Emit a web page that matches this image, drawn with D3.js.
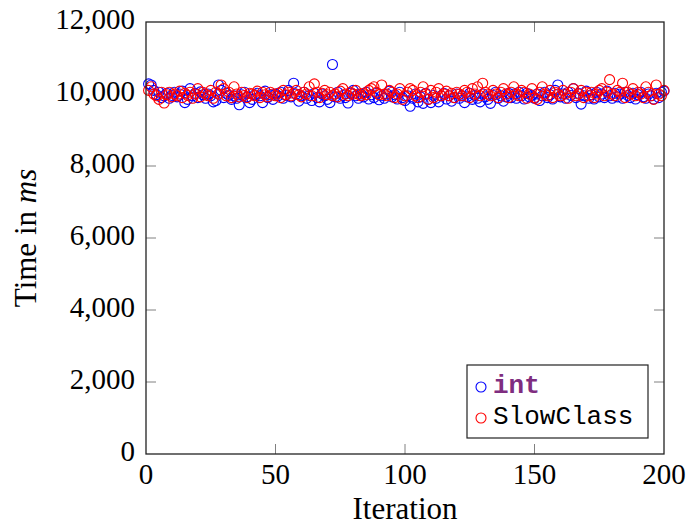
<!DOCTYPE html>
<meta charset="utf-8">
<style>
body { margin: 0; background: #fff; }
text { font-family: "Liberation Serif", "DejaVu Serif", serif; fill: #000; }
.tick-label { font-size: 29px; }
.axis-title { font-size: 31px; }
.legend-text { font-family: "Liberation Mono", monospace; font-size: 26px; }
</style>
<body>
<script src="https://d3js.org/d3.v7.min.js"></script>
<script>

// x ticks and y ticks
var xTicks = [0, 50, 100, 150, 200];
var yTicks = [0, 2000, 4000, 6000, 8000, 10000, 12000];

// run times for int, one per iteration
var intTimes = [
  10280, 10250, 10100, 9980, 10050, 9900, 9950, 10020, 9880, 9960, 10050, 9920, 10000, 10080, 9760, 9850, 10150, 9950, 10020, 9900,
  10060, 9980, 9880, 10000, 9950, 9780, 9820, 10250, 10100, 9900, 10020, 9960, 9850, 9950, 9880, 9700, 9980, 10050, 9920, 9760,
  9850, 9980, 10020, 9950, 9760, 10080, 9900, 9980, 9850, 10000, 9950, 10050, 9880, 9960, 10100, 9920, 10300, 10000, 9800, 9950,
  10050, 9880, 9960, 9820, 10020, 9900, 9780, 10000, 9950, 9850, 9760, 10820, 9920, 10050, 9880, 9960, 9900, 9750, 10020, 10100,
  9950, 9880, 10000, 9920, 10050, 9860, 9980, 9900, 10020, 9840, 9950, 9880, 10000, 10080, 9920, 9980, 9860, 10050, 9900, 9820,
  9950, 9660, 9880, 10000, 9780, 9920, 9740, 10020, 9850, 9760, 9960, 9880, 9780, 9950, 10020, 9860, 9950, 9800, 9900, 10000,
  9880, 9950, 9760, 9920, 10020, 9850, 9960, 9880, 9780, 10000, 9920, 9850, 9740, 9960, 10050, 9880, 9950, 9800, 9920, 10020,
  9900, 10000, 9880, 10050, 9950, 9860, 10020, 9920, 9960, 9880, 10000, 9820, 9950, 10050, 9900, 9980, 9860, 10100, 10250, 9920,
  10000, 9880, 10050, 9960, 10150, 9900, 10020, 9720, 9950, 10080, 9880, 9980, 9860, 10050, 9920, 10000, 9900, 10080, 9950, 9880,
  10020, 9920, 10000, 9880, 10050, 9960, 9900, 10020, 9860, 9980, 10050, 9920, 9880, 10000, 9950, 9860, 10020, 9900, 10050, 10080
];

// run times for SlowClass
var slowTimes = [
  10100, 10200, 10000, 9950, 9850, 10050, 9750, 9980, 10050, 9920, 10000, 9950, 10080, 9900, 10020, 9960, 10050, 9880, 10000, 10150,
  9920, 10050, 10000, 9950, 10100, 9880, 10050, 10000, 10250, 10150, 9950, 10050, 9900, 10200, 10000, 9920, 10050, 9960, 9900, 10020,
  10000, 9950, 10080, 9900, 10050, 9980, 9920, 10050, 10000, 9950, 10020, 9900, 10100, 9980, 10050, 9950, 10020, 10100, 9980, 9920,
  10050, 10000, 10200, 9950, 10280, 10050, 9900, 10020, 10100, 9980, 10050, 9950, 10000, 9920, 10080, 10150, 10000, 9950, 10050, 10000,
  10100, 10000, 9950, 10020, 9980, 10100, 10150, 10200, 10050, 9980, 10250, 10000, 9950, 10100, 10050, 9900, 10000, 10150, 9850, 9950,
  10050, 10150, 10100, 9950, 9900, 10050, 10200, 10000, 9850, 10100, 9900, 10050, 10150, 9950, 10000, 10080, 9950, 10020, 9900, 10050,
  10000, 9950, 10100, 10050, 9900, 10150, 10000, 10200, 9950, 10300, 10050, 10000, 9950, 10100, 10000, 9900, 10050, 10150, 10000, 9900,
  10050, 10200, 10000, 9950, 10100, 10050, 9880, 10000, 10150, 9900, 9850, 10050, 10200, 10000, 9950, 10100, 9900, 10050, 10000, 9950,
  10100, 10000, 9880, 10050, 10150, 9950, 10000, 10100, 9900, 10050, 9950, 10050, 9900, 10000, 10100, 10150, 9950, 10050, 10400, 10000,
  9950, 10100, 10050, 10300, 9900, 10050, 10000, 10150, 9950, 10050, 10000, 9900, 10200, 10050, 9950, 9850, 10250, 10000, 9950, 10100
];

var series = [
  {name: "int", values: intTimes, color: "#0000ff"},
  {name: "SlowClass", values: slowTimes, color: "#ff0000"}
];

// plot box in page pixels (don't call these top/left: window.top is taken)
var width = 688, height = 527;
var boxLeft = 146, boxRight = 664, boxTop = 22, boxBottom = 454;

var x = d3.scaleLinear().domain([0, 200]).range([boxLeft, boxRight]);
var y = d3.scaleLinear().domain([0, 12000]).range([boxBottom, boxTop]);

var svg = d3.select("body").append("svg")
    .attr("width", width)
    .attr("height", height);

// ticks inside the box, on all four sides
var tickLen = 10;
var tickColor = "#808080";

svg.append("g").selectAll("line")
    .data(xTicks.slice(1, -1))
  .enter().append("line")
    .attr("x1", d => x(d)).attr("x2", d => x(d))
    .attr("y1", boxBottom).attr("y2", boxBottom - tickLen)
    .attr("stroke", tickColor);
svg.append("g").selectAll("line")
    .data(xTicks.slice(1, -1))
  .enter().append("line")
    .attr("x1", d => x(d)).attr("x2", d => x(d))
    .attr("y1", boxTop).attr("y2", boxTop + tickLen)
    .attr("stroke", tickColor);
svg.append("g").selectAll("line")
    .data(yTicks.slice(1, -1))
  .enter().append("line")
    .attr("x1", boxLeft).attr("x2", boxLeft + tickLen)
    .attr("y1", d => y(d)).attr("y2", d => y(d))
    .attr("stroke", tickColor);
svg.append("g").selectAll("line")
    .data(yTicks.slice(1, -1))
  .enter().append("line")
    .attr("x1", boxRight).attr("x2", boxRight - tickLen)
    .attr("y1", d => y(d)).attr("y2", d => y(d))
    .attr("stroke", tickColor);

// tick labels
svg.append("g").selectAll("text")
    .data(xTicks)
  .enter().append("text")
    .attr("class", "tick-label")
    .attr("x", d => x(d))
    .attr("y", boxBottom + 30)
    .attr("text-anchor", "middle")
    .text(d => d);

svg.append("g").selectAll("text")
    .data(yTicks)
  .enter().append("text")
    .attr("class", "tick-label")
    .attr("x", boxLeft - 11)
    .attr("y", d => y(d) + 7)
    .attr("text-anchor", "end")
    .text(d => d3.format(",")(d));

// the points
series.forEach(function(s) {
  svg.append("g").selectAll("circle")
      .data(s.values)
    .enter().append("circle")
      .attr("cx", (d, i) => x(i + 1))
      .attr("cy", d => y(d))
      .attr("r", 5)
      .attr("fill", "none")
      .attr("stroke", s.color)
      .attr("stroke-width", 1.1);
});

// axis box
svg.append("rect")
    .attr("x", boxLeft).attr("y", boxTop)
    .attr("width", boxRight - boxLeft).attr("height", boxBottom - boxTop)
    .attr("fill", "none")
    .attr("stroke", "#222")
    .attr("stroke-width", 1.3);

// axis titles
svg.append("text")
    .attr("class", "axis-title")
    .attr("x", (boxLeft + boxRight) / 2)
    .attr("y", 519)
    .attr("text-anchor", "middle")
    .text("Iteration");

var yTitle = svg.append("text")
    .attr("class", "axis-title")
    .attr("transform", "translate(36," + ((boxTop + boxBottom) / 2) + ") rotate(-90)")
    .attr("text-anchor", "middle");
yTitle.append("tspan").text("Time in ");
yTitle.append("tspan").style("font-style", "italic").text("ms");

// legend
var legend = svg.append("g");
legend.append("rect")
    .attr("x", 467).attr("y", 365)
    .attr("width", 181).attr("height", 73)
    .attr("fill", "#fff")
    .attr("stroke", "#222")
    .attr("stroke-width", 1.2);

series.forEach(function(s, i) {
  var ly = 387 + i * 31;
  legend.append("circle")
      .attr("cx", 481).attr("cy", ly)
      .attr("r", 5)
      .attr("fill", "none")
      .attr("stroke", s.color)
      .attr("stroke-width", 1.1);
  var t = legend.append("text")
      .attr("class", "legend-text")
      .attr("x", 493).attr("y", ly + 6)
      .text(s.name);
  if (i === 0) t.style("font-weight", "bold").style("fill", "#7f2d80");
});

</script>
</body>
